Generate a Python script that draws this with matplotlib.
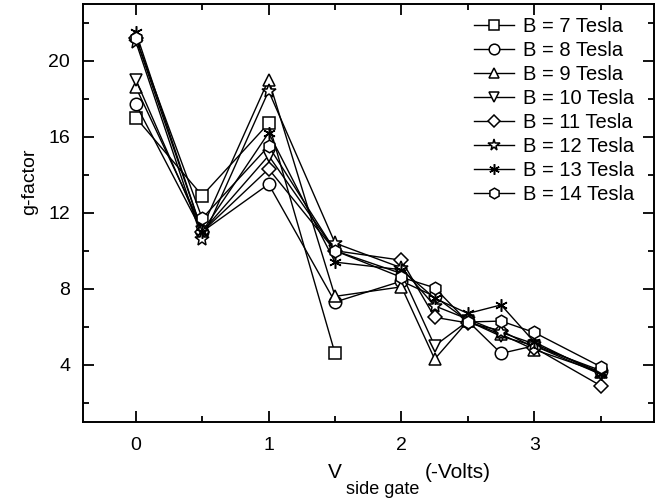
import matplotlib
matplotlib.use("Agg")
import matplotlib.pyplot as plt
from matplotlib.ticker import MultipleLocator

plt.rcParams["font.family"] = ["Liberation Sans", "DejaVu Sans"]

# gate voltage points (-V)
V_ALL = [0, 0.5, 1, 1.5, 2, 2.25, 2.5, 2.75, 3, 3.5]
V_B7 = [0, 0.5, 1, 1.5]

G_B7 = [17.0, 12.9, 16.7, 4.6]
G_B8 = [17.7, 11.0, 13.5, 7.3, 8.4, 7.6, 6.3, 4.6, 5.0, 3.7]
G_B9 = [18.6, 11.2, 19.0, 7.6, 8.1, 4.3, 6.3, 5.6, 4.8, 3.6]
G_B10 = [19.0, 11.0, 15.0, 10.0, 8.8, 5.0, 6.3, 5.5, 5.0, 3.5]
G_B11 = [21.2, 11.0, 14.3, 10.0, 9.5, 6.5, 6.2, 5.8, 4.9, 2.9]
G_B12 = [21.0, 10.6, 18.4, 10.4, 9.1, 7.1, 6.4, 5.7, 5.1, 3.6]
G_B13 = [21.5, 11.0, 16.2, 9.4, 9.0, 7.5, 6.7, 7.15, 5.2, 3.5]
G_B14 = [21.2, 11.7, 15.5, 10.0, 8.6, 8.05, 6.25, 6.3, 5.7, 3.9]

series = [
    ("B = 7 Tesla", V_B7, G_B7, "s"),
    ("B = 8 Tesla", V_ALL, G_B8, "o"),
    ("B = 9 Tesla", V_ALL, G_B9, "^"),
    ("B = 10 Tesla", V_ALL, G_B10, "v"),
    ("B = 11 Tesla", V_ALL, G_B11, "D"),
    ("B = 12 Tesla", V_ALL, G_B12, "*"),
    ("B = 13 Tesla", V_ALL, G_B13, (6, 2, 0)),
    ("B = 14 Tesla", V_ALL, G_B14, "h"),
]

W, H = 672, 504
fig = plt.figure(figsize=(W / 100, H / 100), dpi=100)
ax = fig.add_axes([0.123, 0.163, 0.850, 0.830])

for label, x, y, m in series:
    ms = 9 if m not in ("D", "*") else (7 if m == "D" else 10)
    ax.plot(x, y, color="black", lw=1.0, marker=m, ms=ms,
            mfc="white", mec="black", mew=1.1, label=label)

ax.set_xlim(-0.4, 3.9)
ax.set_ylim(1, 23)
ax.xaxis.set_major_locator(MultipleLocator(1))
ax.xaxis.set_minor_locator(MultipleLocator(0.5))
ax.yaxis.set_major_locator(MultipleLocator(4))
ax.yaxis.set_minor_locator(MultipleLocator(2))
ax.tick_params(which="both", direction="in", top=True, right=True,
               width=1.3, labelsize=14)
ax.tick_params(axis="x", pad=11)
ax.tick_params(axis="y", pad=9)
ax.tick_params(which="major", length=8)
ax.tick_params(which="minor", length=4.5)
for s in ax.spines.values():
    s.set_linewidth(1.4)

# y label, sitting a bit above the axes centre as in the original
fig.text(30 / W, 1 - 182 / H, "g-factor", fontsize=14, rotation=90,
         ha="center", va="center")

# x label built from pieces: V, subscript, (-Volts)
renderer = fig.canvas.get_renderer()
x0 = 328 / W
t1 = fig.text(x0, 1 - 472 / H, "V", fontsize=15, ha="left", va="center")
bb = t1.get_window_extent(renderer)
t2 = fig.text((bb.x1 + 4) / W, 1 - 490 / H, "side gate", fontsize=13,
              ha="left", va="center")
bb = t2.get_window_extent(renderer)
fig.text((bb.x1 + 6) / W, 1 - 472 / H, "(-Volts)", fontsize=15,
         ha="left", va="center")

ax.legend(loc="upper right", bbox_to_anchor=(0.966, 0.968), frameon=False,
          fontsize=14.5, handlelength=2.0, handletextpad=0.45,
          labelspacing=0.25, borderaxespad=0, borderpad=0, markerscale=0.85)

fig.savefig("out.png", dpi=100)
